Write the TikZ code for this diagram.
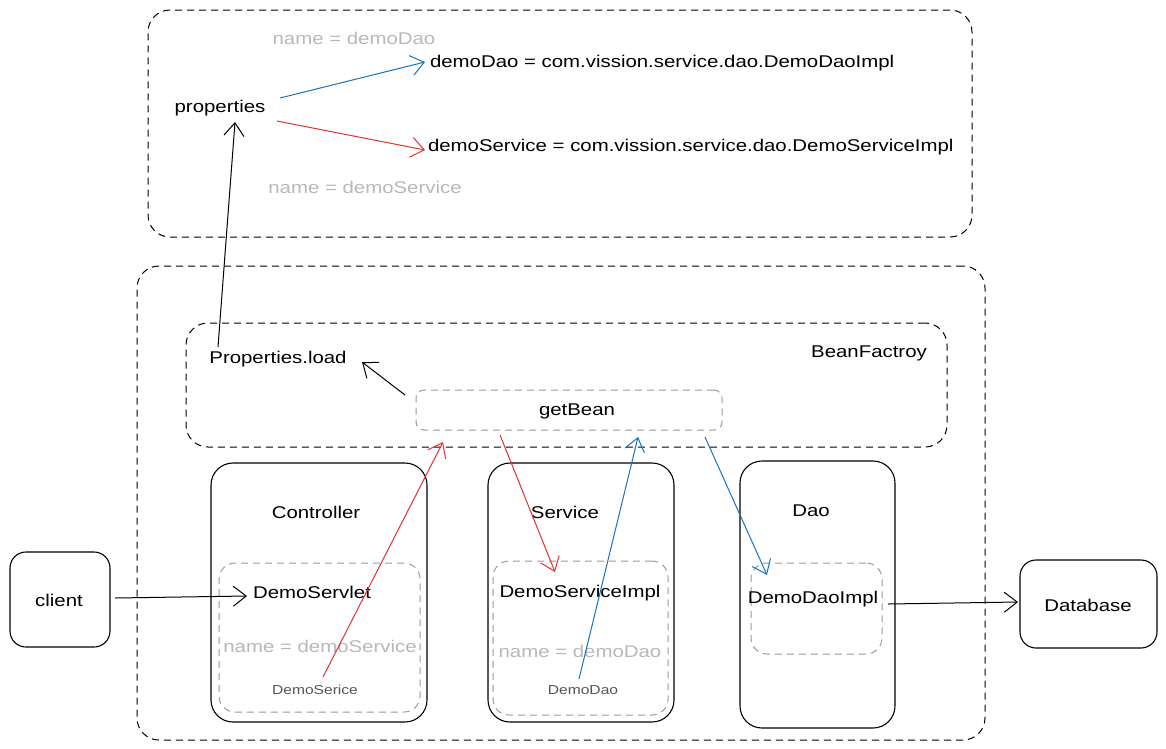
\documentclass[tikz,border=0pt]{standalone}
\usepackage{fontspec}
\setmainfont{Liberation Sans}[FakeStretch=1.2]
\usetikzlibrary{arrows.meta}
\definecolor{exblue}{HTML}{1971C2}
\definecolor{exred}{HTML}{E03131}
\definecolor{lgray}{HTML}{B8B8B8}
\definecolor{dgray}{HTML}{555555}
\definecolor{bgray}{HTML}{9A9A9A}
\begin{document}
\begin{tikzpicture}[x=1pt,y=-1pt,
  every node/.style={inner sep=0pt, outer sep=0pt},
  solidbox/.style={draw, line width=1.1pt, rounded corners=22pt},
  dashbox/.style={draw, line width=1pt, rounded corners=22pt, dash pattern=on 7pt off 5pt},
  graybox/.style={draw=bgray, line width=1pt, rounded corners=16pt, dash pattern=on 7pt off 5pt},
  lbl/.style={font=\fontsize{17}{19}\selectfont},
  glbl/.style={font=\fontsize{17}{19}\selectfont, text=lgray},
  slbl/.style={font=\fontsize{13}{15}\selectfont, text=dgray},
  arr/.style={-{Straight Barb[length=13pt,width=20pt,line width=1pt]}, line width=1pt},
]
\useasboundingbox (0,0) rectangle (1166,748);
% containers
\node[dashbox, minimum width=824pt, minimum height=227pt] (top) at (560,123.5) {};
\node[dashbox, minimum width=848pt, minimum height=474pt] (bottom) at (561,503) {};
\node[dashbox, minimum width=761pt, minimum height=124pt] (bf) at (566.5,385) {};
\node[graybox, rounded corners=8pt, minimum width=306pt, minimum height=40pt] (gb) at (569,410) {};
\node[solidbox, minimum width=216pt, minimum height=259pt] (ctrl) at (319,592.5) {};
\node[solidbox, minimum width=186pt, minimum height=259pt] (svc) at (581,592.5) {};
\node[solidbox, minimum width=155pt, minimum height=267pt] (dao) at (817.5,594.5) {};
\node[solidbox, rounded corners=16pt, minimum width=100pt, minimum height=95pt] (client) at (60,599.5) {};
\node[solidbox, rounded corners=16pt, minimum width=137pt, minimum height=88pt] (db) at (1088.5,604) {};
\node[graybox, minimum width=201pt, minimum height=149pt] (servletbox) at (319.5,637.5) {};
\node[graybox, minimum width=175pt, minimum height=154pt] (svcimplbox) at (580.5,638) {};
\node[graybox, minimum width=131pt, minimum height=91pt] (daoimplbox) at (816.5,608.5) {};
% texts
\node[glbl] (n1) at (354,38) {name = demoDao};
\node[lbl, anchor=west] (dd) at (430,63) {demoDao = com.vission.service.dao.DemoDaoImpl};
\node[lbl] (props) at (220,108) {properties};
\node[lbl, anchor=west] (ds) at (428,147) {demoService = com.vission.service.dao.DemoServiceImpl};
\node[glbl] (n2) at (365,187) {name = demoService};
\node[lbl] (pl) at (278,359) {Properties.load};
\node[lbl] (bft) at (869,353) {BeanFactroy};
\node[lbl] (gbt) at (577,411) {getBean};
\node[lbl] (ct) at (316,512) {Controller};
\node[lbl] (st) at (565,512) {Service};
\node[lbl] (dt) at (811,511) {Dao};
\node[lbl] (servlet) at (312,592) {DemoServlet};
\node[glbl] (n3) at (320,646) {name = demoService};
\node[slbl] (dsr) at (315,690) {DemoSerice};
\node[lbl] (svcimpl) at (580,593) {DemoServiceImpl};
\node[glbl] (n4) at (580,651) {name = demoDao};
\node[slbl] (ddo) at (583,690) {DemoDao};
\node[lbl] (daoimpl) at (813,599) {DemoDaoImpl};
\node[lbl] (ct2) at (59,600) {client};
\node[lbl] (dbt) at (1088,605) {Database};
% coordinates for arrow ends
\coordinate (p1) at (280,98);
\coordinate (p2) at (425,62);
\coordinate (p3) at (277,121);
\coordinate (p4) at (425,150);
\coordinate (p5) at (218,347);
\coordinate (p6) at (235,122);
\coordinate (p7) at (405,395);
\coordinate (p8) at (362,362);
\coordinate (r1) at (323,677);
\coordinate (r2) at (443,442);
\coordinate (r3) at (500,435);
\coordinate (r4) at (555,572);
\coordinate (b1) at (579,679);
\coordinate (b2) at (638,437);
\coordinate (b3) at (705,437);
\coordinate (b4) at (767,575);
\coordinate (c1) at (115,598);
\coordinate (c2) at (247,596);
\coordinate (d1) at (888,604);
\coordinate (d2) at (1018,602);
% arrows
\draw[arr, exblue] (p1) -- (p2);
\draw[arr, exred] (p3) -- (p4);
\draw[arr] (p5) -- (p6);
\draw[arr] (p7) -- (p8);
\draw[arr, exred] (r1) -- (r2);
\draw[arr, exred] (r3) -- (r4);
\draw[arr, exblue] (b1) -- (b2);
\draw[arr, exblue] (b3) -- (b4);
\draw[arr] (c1) -- (c2);
\draw[arr] (d1) -- (d2);
\end{tikzpicture}
\end{document}
